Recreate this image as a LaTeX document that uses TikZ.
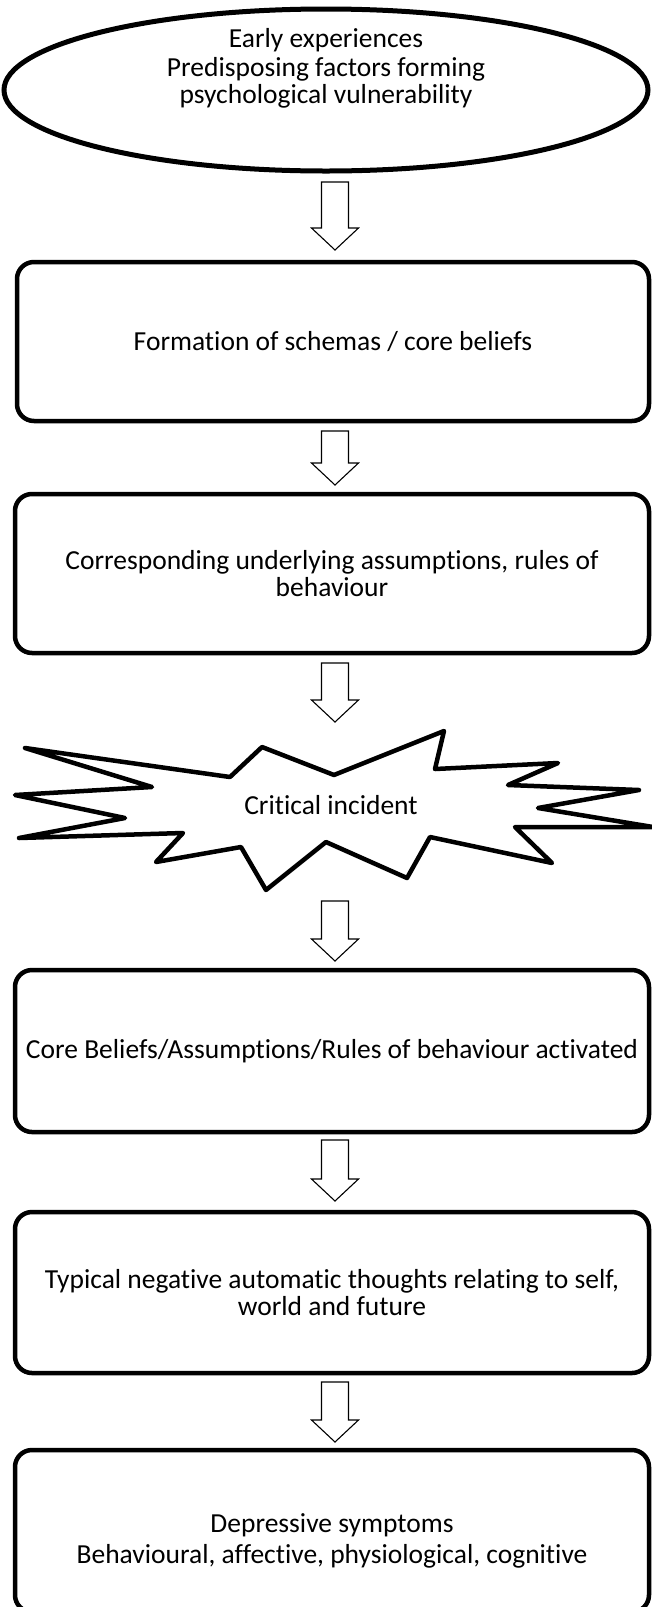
\documentclass[tikz,border=0pt]{standalone}
\usepackage{fontspec}
\setmainfont{Carlito}[RawFeature={-liga}]
\usetikzlibrary{calc}
\tikzset{
  box/.style={draw, line width=4.5pt, rounded corners=17pt, align=center,
    font=\fontsize{27.5}{27.5}\selectfont, inner sep=0pt},
  blockarrow/.style={draw, line width=1.1pt, fill=white, line join=miter},
  burst/.style={draw, line width=4.5pt, line join=round},
  txt/.style={align=center, font=\fontsize{27.5}{27.5}\selectfont, inner sep=0pt}
}
\newcommand\blockarr[2]{%
  \draw[blockarrow] ($(#1)+(-13.5,0)$) -- ($(#2)+(-13.5,-22)$) -- ($(#2)+(-23.5,-22)$)
    -- (#2) -- ($(#2)+(23.5,-22)$) -- ($(#2)+(13.5,-22)$) -- ($(#1)+(13.5,0)$) -- cycle;}
\begin{document}
\begin{tikzpicture}[x=1pt,y=-1pt]
\useasboundingbox (0,0) rectangle (651,1607);
% top ellipse
\draw[line width=5pt] (326,90) ellipse [x radius=322pt, y radius=81pt];
\node[txt, font=\fontsize{27.5}{26.5}\selectfont] (ell) at (326,68) {Early experiences\\[3pt]Predisposing factors forming\\psychological vulnerability};
% boxes
\node[box, minimum width=632pt, minimum height=159pt] (b1) at (333,341.5) {Formation of schemas / core beliefs};
\node[box, minimum width=634pt, minimum height=159pt] (b2) at (332,573.5) {Corresponding underlying assumptions, rules of\\behaviour};
% starburst
\draw[burst] (25,748) -- (230,777) -- (262,747) -- (334,775) -- (444,731) -- (435,769)
  -- (558,763) -- (508,785) -- (639,790) -- (538,808) -- (653,827) -- (515,827)
  -- (552,863) -- (430,837) -- (407,878) -- (326,842) -- (266,890) -- (241,847)
  -- (156,862) -- (183,833) -- (19,838) -- (125,818) -- (15,795) -- (152,787) -- cycle;
\node[txt] (ci) at (331,805) {Critical incident};
\node[box, minimum width=634pt, minimum height=162pt] (b3) at (332,1051) {Core Beliefs/Assumptions/Rules of behaviour activated};
\node[box, minimum width=634pt, minimum height=161pt] (b4) at (332,1292.5) {Typical negative automatic thoughts relating to self,\\world and future};
\node[box, minimum width=634pt, minimum height=162pt] (b5) at (332,1531) {};
\node[txt] (b5t) at (332,1541) {Depressive symptoms\\[4pt]Behavioural, affective, physiological, cognitive};
% arrows
\coordinate (a1s) at (335,182);  \coordinate (a1e) at (335,250);
\coordinate (a2s) at (335,431);  \coordinate (a2e) at (335,485);
\coordinate (a3s) at (335,663);  \coordinate (a3e) at (335,722);
\coordinate (a4s) at (335,901);  \coordinate (a4e) at (335,961);
\coordinate (a5s) at (335,1140); \coordinate (a5e) at (335,1201);
\coordinate (a6s) at (335,1382); \coordinate (a6e) at (335,1442);
\blockarr{a1s}{a1e}
\blockarr{a2s}{a2e}
\blockarr{a3s}{a3e}
\blockarr{a4s}{a4e}
\blockarr{a5s}{a5e}
\blockarr{a6s}{a6e}
\end{tikzpicture}
\end{document}
